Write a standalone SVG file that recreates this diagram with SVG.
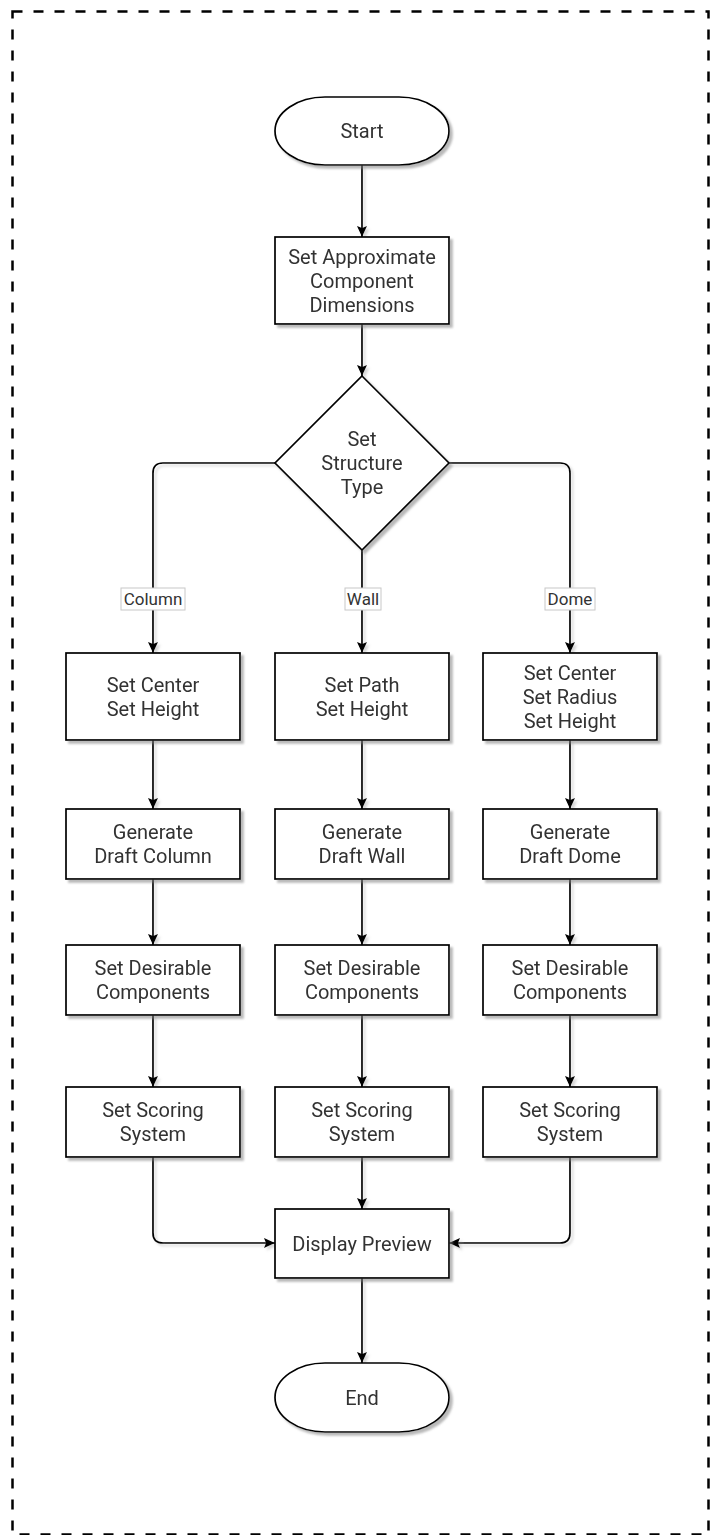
<svg xmlns="http://www.w3.org/2000/svg" width="711" height="1535" viewBox="0 0 711 1535">
  <style>
    .node { fill: #ffffff; stroke: #000000; stroke-width: 1.7; }
    .label { font-family: Roboto, "Liberation Sans", sans-serif; font-size: 20px; fill: #333333; text-anchor: middle; dominant-baseline: central; }
    .edge { fill: none; stroke: #000000; stroke-width: 1.7; }
    .edge-label-bg { fill: #ffffff; stroke: #c8c8c8; stroke-width: 1; }
    .edge-label { font-family: Roboto, "Liberation Sans", sans-serif; font-size: 17px; fill: #333333; text-anchor: middle; dominant-baseline: central; }
    .frame { fill: none; stroke: #000000; stroke-width: 2.5; stroke-dasharray: 10 11; }
  </style>
  <defs>
    <filter id="shadow" filterUnits="userSpaceOnUse" x="0" y="0" width="711" height="1535">
      <feDropShadow dx="3" dy="3" stdDeviation="1" flood-color="#7f7f7f" flood-opacity="0.55"/>
    </filter>
    <filter id="edge-shadow" filterUnits="userSpaceOnUse" x="0" y="0" width="711" height="1535">
      <feDropShadow dx="2.5" dy="2.5" stdDeviation="0.8" flood-color="#9a9a9a" flood-opacity="0.4"/>
    </filter>
    <marker id="arrow" markerUnits="userSpaceOnUse" markerWidth="12" markerHeight="12" refX="11" refY="6" orient="auto">
      <path d="M0,1 L11,6 L0,11 L2,6 Z" fill="#000000"/>
    </marker>
  </defs>

  <!-- dashed outer frame -->
  <rect class="frame" x="12.5" y="11.5" width="696" height="1523"/>

  <!-- connectors -->
  <g id="connectors" filter="url(#edge-shadow)">
    <path class="edge" marker-end="url(#arrow)" d="M362,165 L362,237"/>
    <path class="edge" marker-end="url(#arrow)" d="M362,324 L362,376"/>
    <path class="edge" marker-end="url(#arrow)" d="M275,463 L163,463 Q153,463 153,473 L153,653"/>
    <path class="edge" marker-end="url(#arrow)" d="M362,550 L362,653"/>
    <path class="edge" marker-end="url(#arrow)" d="M449,463 L560,463 Q570,463 570,473 L570,653"/>

    <path class="edge" marker-end="url(#arrow)" d="M153,740 L153,809"/>
    <path class="edge" marker-end="url(#arrow)" d="M362,740 L362,809"/>
    <path class="edge" marker-end="url(#arrow)" d="M570,740 L570,809"/>

    <path class="edge" marker-end="url(#arrow)" d="M153,879 L153,945"/>
    <path class="edge" marker-end="url(#arrow)" d="M362,879 L362,945"/>
    <path class="edge" marker-end="url(#arrow)" d="M570,879 L570,945"/>

    <path class="edge" marker-end="url(#arrow)" d="M153,1015 L153,1087"/>
    <path class="edge" marker-end="url(#arrow)" d="M362,1015 L362,1087"/>
    <path class="edge" marker-end="url(#arrow)" d="M570,1015 L570,1087"/>

    <path class="edge" marker-end="url(#arrow)" d="M153,1157 L153,1233 Q153,1243 163,1243 L275,1243"/>
    <path class="edge" marker-end="url(#arrow)" d="M362,1157 L362,1209"/>
    <path class="edge" marker-end="url(#arrow)" d="M570,1157 L570,1233 Q570,1243 560,1243 L449,1243"/>

    <path class="edge" marker-end="url(#arrow)" d="M362,1278 L362,1363"/>
  </g>

  <!-- branch labels -->
  <g id="edge-labels">
    <rect class="edge-label-bg" x="121" y="588" width="64" height="22"/>
    <text class="edge-label" x="153" y="599">Column</text>
    <rect class="edge-label-bg" x="345" y="588" width="36" height="22"/>
    <text class="edge-label" x="363" y="599">Wall</text>
    <rect class="edge-label-bg" x="545" y="588" width="50" height="22"/>
    <text class="edge-label" x="570" y="599">Dome</text>
  </g>

  <!-- nodes -->
  <g id="start" filter="url(#shadow)">
    <rect class="node" x="275" y="97" width="174" height="68" rx="50" ry="34"/>
    <text class="label" x="362" y="131">Start</text>
  </g>

  <g id="set-dimensions" filter="url(#shadow)">
    <rect class="node" x="275" y="237" width="174" height="87"/>
    <text class="label" x="362" y="280.5"><tspan x="362" dy="-24">Set Approximate</tspan><tspan x="362" dy="24">Component</tspan><tspan x="362" dy="24">Dimensions</tspan></text>
  </g>

  <g id="structure-type" filter="url(#shadow)">
    <polygon class="node" points="362,376 449,463 362,550 275,463"/>
    <text class="label" x="362" y="463"><tspan x="362" dy="-24">Set</tspan><tspan x="362" dy="24">Structure</tspan><tspan x="362" dy="24">Type</tspan></text>
  </g>

  <g id="column-params" filter="url(#shadow)">
    <rect class="node" x="66" y="653" width="174" height="87"/>
    <text class="label" x="153" y="696.5"><tspan x="153" dy="-12">Set Center</tspan><tspan x="153" dy="24">Set Height</tspan></text>
  </g>
  <g id="wall-params" filter="url(#shadow)">
    <rect class="node" x="275" y="653" width="174" height="87"/>
    <text class="label" x="362" y="696.5"><tspan x="362" dy="-12">Set Path</tspan><tspan x="362" dy="24">Set Height</tspan></text>
  </g>
  <g id="dome-params" filter="url(#shadow)">
    <rect class="node" x="483" y="653" width="174" height="87"/>
    <text class="label" x="570" y="696.5"><tspan x="570" dy="-24">Set Center</tspan><tspan x="570" dy="24">Set Radius</tspan><tspan x="570" dy="24">Set Height</tspan></text>
  </g>

  <g id="draft-column" filter="url(#shadow)">
    <rect class="node" x="66" y="809" width="174" height="70"/>
    <text class="label" x="153" y="844"><tspan x="153" dy="-12">Generate</tspan><tspan x="153" dy="24">Draft Column</tspan></text>
  </g>
  <g id="draft-wall" filter="url(#shadow)">
    <rect class="node" x="275" y="809" width="174" height="70"/>
    <text class="label" x="362" y="844"><tspan x="362" dy="-12">Generate</tspan><tspan x="362" dy="24">Draft Wall</tspan></text>
  </g>
  <g id="draft-dome" filter="url(#shadow)">
    <rect class="node" x="483" y="809" width="174" height="70"/>
    <text class="label" x="570" y="844"><tspan x="570" dy="-12">Generate</tspan><tspan x="570" dy="24">Draft Dome</tspan></text>
  </g>

  <g id="components-column" filter="url(#shadow)">
    <rect class="node" x="66" y="945" width="174" height="70"/>
    <text class="label" x="153" y="980"><tspan x="153" dy="-12">Set Desirable</tspan><tspan x="153" dy="24">Components</tspan></text>
  </g>
  <g id="components-wall" filter="url(#shadow)">
    <rect class="node" x="275" y="945" width="174" height="70"/>
    <text class="label" x="362" y="980"><tspan x="362" dy="-12">Set Desirable</tspan><tspan x="362" dy="24">Components</tspan></text>
  </g>
  <g id="components-dome" filter="url(#shadow)">
    <rect class="node" x="483" y="945" width="174" height="70"/>
    <text class="label" x="570" y="980"><tspan x="570" dy="-12">Set Desirable</tspan><tspan x="570" dy="24">Components</tspan></text>
  </g>

  <g id="scoring-column" filter="url(#shadow)">
    <rect class="node" x="66" y="1087" width="174" height="70"/>
    <text class="label" x="153" y="1122"><tspan x="153" dy="-12">Set Scoring</tspan><tspan x="153" dy="24">System</tspan></text>
  </g>
  <g id="scoring-wall" filter="url(#shadow)">
    <rect class="node" x="275" y="1087" width="174" height="70"/>
    <text class="label" x="362" y="1122"><tspan x="362" dy="-12">Set Scoring</tspan><tspan x="362" dy="24">System</tspan></text>
  </g>
  <g id="scoring-dome" filter="url(#shadow)">
    <rect class="node" x="483" y="1087" width="174" height="70"/>
    <text class="label" x="570" y="1122"><tspan x="570" dy="-12">Set Scoring</tspan><tspan x="570" dy="24">System</tspan></text>
  </g>

  <g id="display-preview" filter="url(#shadow)">
    <rect class="node" x="275" y="1209" width="174" height="69"/>
    <text class="label" x="362" y="1243.5">Display Preview</text>
  </g>

  <g id="end" filter="url(#shadow)">
    <rect class="node" x="275" y="1363" width="174" height="69" rx="50" ry="34.5"/>
    <text class="label" x="362" y="1397.5">End</text>
  </g>
</svg>
